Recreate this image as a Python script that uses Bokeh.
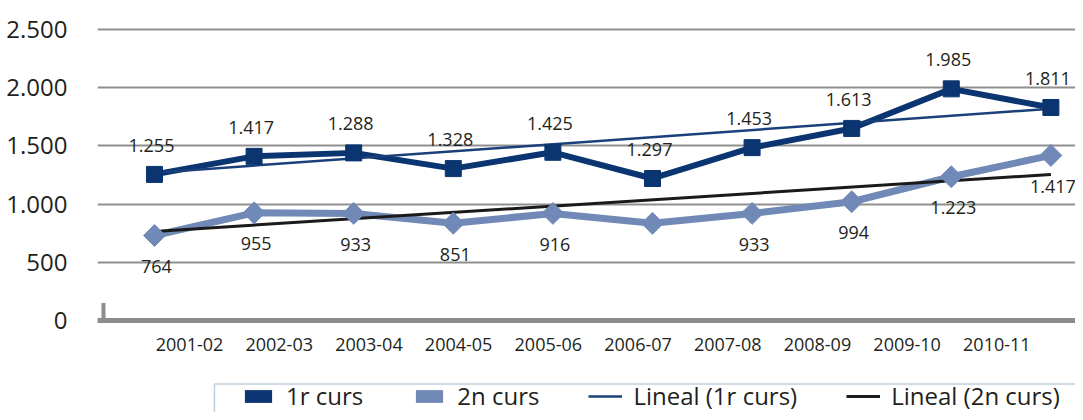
import math
from bokeh.plotting import figure
from bokeh.layouts import column
from bokeh.models import (Range1d, LinearAxis, FixedTicker, Legend, LegendItem,
                          ColumnDataSource, BoxAnnotation)
from bokeh.embed import file_html
from bokeh.resources import INLINE
from bokeh.core.properties import value

# ---------------- data ----------------
categories = ["2001-02", "2002-03", "2003-04", "2004-05", "2005-06",
              "2006-07", "2007-08", "2008-09", "2009-10", "2010-11"]
curs1 = [1255, 1410, 1440, 1305, 1445, 1220, 1485, 1650, 1990, 1830]
curs2 = [730, 925, 920, 835, 920, 835, 920, 1020, 1235, 1418]
labels1 = ["1.255", "1.417", "1.288", "1.328", "1.425",
           "1.297", "1.453", "1.613", "1.985", "1.811"]
labels2 = ["764", "955", "933", "851", "916",
           "", "933", "994", "1.223", "1.417"]
trend1 = [1270, 1820]   # Lineal (1r curs): first and last category
trend2 = [765, 1255]    # Lineal (2n curs)
y_ticks = [0, 500, 1000, 1500, 2000, 2500]
y_tick_labels = ["0", "500", "1.000", "1.500", "2.000", "2.500"]
series_names = ["1r curs", "2n curs", "Lineal (1r curs)", "Lineal (2n curs)"]

# ---------------- styles ----------------
C1 = "#0b3571"
C2 = "#7189b6"
CT1 = "#1b4079"
CT2 = "#1a1a1a"
TXT = "#231f20"
GRID = "#8f8f8f"
FONT = "Open Sans"
W = 1075

xi = list(range(len(categories)))
src1 = ColumnDataSource(dict(x=xi, y=curs1, lab=labels1))
src2 = ColumnDataSource(dict(x=xi, y=curs2, lab=labels2))

p = figure(width=W, height=370, output_backend="svg", toolbar_location=None,
           x_range=Range1d(-0.572, 9.247), y_range=Range1d(0, 2749),
           x_axis_type=None, min_border_left=97, min_border_right=0,
           min_border_top=0, min_border_bottom=50)
p.outline_line_color = None

# y axis / grid
p.yaxis.ticker = FixedTicker(ticks=y_ticks)
p.yaxis.major_label_overrides = dict(zip(y_ticks, y_tick_labels))
p.yaxis.axis_line_color = None
p.yaxis.major_tick_line_color = None
p.yaxis.minor_tick_line_color = None
p.yaxis.major_label_standoff = 24
p.yaxis.major_label_text_font = FONT
p.yaxis.major_label_text_font_size = "24px"
p.yaxis.major_label_text_color = TXT
p.ygrid.ticker = FixedTicker(ticks=y_ticks)
p.ygrid.grid_line_color = GRID
p.ygrid.grid_line_width = 2

# category axis (offset like the original 3-D style chart)
p.extra_x_ranges = {"cat": Range1d(-1.026, 9.877)}
xaxis = LinearAxis(x_range_name="cat", ticker=FixedTicker(ticks=xi),
                   major_label_overrides={i: c for i, c in zip(xi, categories)})
xaxis.axis_line_color = "#8c8c8c"
xaxis.axis_line_width = 5
xaxis.major_tick_line_color = None
xaxis.minor_tick_line_color = None
xaxis.major_label_standoff = 11
xaxis.major_label_text_font = FONT
xaxis.major_label_text_font_size = "18px"
xaxis.major_label_text_color = TXT
p.add_layout(xaxis, "below")

# floor stub
p.segment(x0=[-0.512], y0=[0], x1=[-0.512], y1=[150], line_color="#8c8c8c", line_width=4)

# series
p.line("x", "y", source=src1, line_color=C1, line_width=6)
p.line("x", "y", source=src2, line_color=C2, line_width=7)
p.line([xi[0], xi[-1]], trend1, line_color=CT1, line_width=2.5)
p.line([xi[0], xi[-1]], trend2, line_color=CT2, line_width=3)
p.scatter("x", "y", source=src1, marker="square", size=16, fill_color=C1, line_color=C1)
p.scatter("x", "y", source=src2, marker="square", angle=math.pi / 4, size=15.5,
          fill_color=C2, line_color=C2)

# data labels
p.text("x", "y", text="lab", source=src1, x_offset=-3, y_offset=-29,
       text_align="center", text_baseline="middle", text_font=value(FONT),
       text_font_size="18px", text_color=TXT)
p.text("x", "y", text="lab", source=src2, x_offset=2, y_offset=31,
       text_align="center", text_baseline="middle", text_font=value(FONT),
       text_font_size="18px", text_color=TXT)

# legend strip (separate figure below the chart; its frame is aligned with the chart's)
q = figure(width=W, height=42, output_backend="svg", toolbar_location=None,
           x_range=Range1d(0, 1), y_range=Range1d(0, 1),
           x_axis_type=None, y_axis_type=None, min_border=0)
q.outline_line_color = None
q.grid.visible = False
# legend frame box (bottom/right run past the visible area, as in the original)
q.add_layout(BoxAnnotation(left=0.1196, right=1.5, top=0.68, bottom=-0.5,
                           fill_alpha=0, line_color="#2e5e8e", line_width=1.5))
# legend swatches (kept outside the visible range)
leg1 = q.quad(left=[2], right=[3], top=[3], bottom=[2], fill_color=C1, line_color=None)
leg2 = q.quad(left=[2], right=[3], top=[3], bottom=[2], fill_color=C2, line_color=None)
leg3 = q.line(x=[2, 3], y=[2, 2], line_color=CT1, line_width=2.5)
leg4 = q.line(x=[2, 3], y=[2, 2], line_color=CT2, line_width=3)
legend = Legend(items=[LegendItem(label=series_names[0], renderers=[leg1]),
                       LegendItem(label=series_names[1], renderers=[leg2]),
                       LegendItem(label=series_names[2], renderers=[leg3]),
                       LegendItem(label=series_names[3], renderers=[leg4])],
                orientation="horizontal", location=(144, 0),
                glyph_width=34, glyph_height=16, label_height=26,
                label_standoff=11, spacing=49, padding=0, margin=0,
                border_line_color=None, background_fill_alpha=0,
                label_text_font=FONT, label_text_font_size="24px",
                label_text_color=TXT)
q.add_layout(legend)

layout = column(p, q, spacing=0)
open("out.html", "w").write(file_html(layout, INLINE))
